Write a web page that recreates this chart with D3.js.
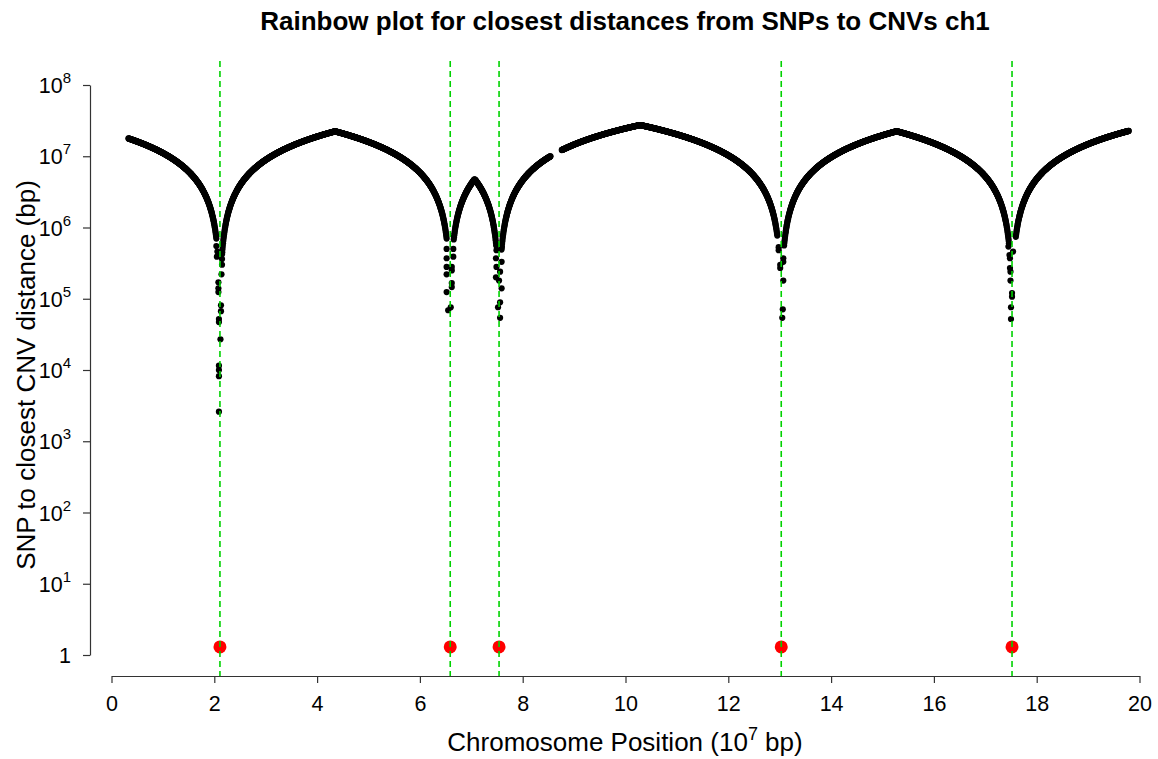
<!DOCTYPE html>
<html>
<head>
<meta charset="utf-8">
<script src="https://cdn.jsdelivr.net/npm/d3@7"></script>
<style>
  html, body { margin: 0; padding: 0; background: #fff; }
  svg { display: block; font-family: "Liberation Sans", Arial, Helvetica, sans-serif; }
</style>
</head>
<body>
<svg id="chart" width="1158" height="759"></svg>
<script>
// CNV locations on chromosome 1 (units of 10^7 bp)
const cnvPositions = [2.11, 6.59, 7.54, 13.03, 17.52];

// Runs of densely genotyped SNPs (start, end in 10^7 bp) and their spacing
const snpRuns = [
  [0.33, 2.04], [2.155, 6.52], [6.658, 7.484], [7.589, 8.54],
  [8.76, 12.953], [13.086, 17.46], [17.594, 19.79]
];
const snpSpacing = 0.005;

// Sparse SNPs lying right next to a CNV: [position (10^7 bp), distance (bp)]
const nearCnvSnps = [
  // CNV at 2.11
  [2.04, 5.5e5], [2.06, 4.6e5], [2.05, 3.9e5], [2.15, 4.2e5], [2.15, 3.6e5],
  [2.15, 3.0e5], [2.14, 2.2e5], [2.08, 1.7e5], [2.08, 1.4e5], [2.08, 1.24e5],
  [2.13, 8.1e4], [2.13, 6.7e4], [2.09, 5.2e4], [2.09, 4.7e4], [2.12, 2.7e4],
  [2.09, 1.15e4], [2.09, 1.0e4], [2.09, 8.2e3], [2.09, 2.6e3],
  // CNV at 6.59
  [6.52, 5.0e5], [6.65, 5.0e5], [6.52, 3.7e5], [6.65, 3.9e5], [6.52, 2.8e5],
  [6.62, 2.8e5], [6.62, 2.5e5], [6.52, 2.2e5], [6.62, 1.66e5], [6.62, 1.46e5],
  [6.52, 1.24e5], [6.60, 7.6e4], [6.55, 6.9e4],
  // CNV at 7.54
  [7.49, 4.8e5], [7.59, 5.2e5], [7.48, 3.7e5], [7.59, 3.3e5], [7.49, 2.8e5],
  [7.56, 2.4e5], [7.48, 2.0e5], [7.54, 1.8e5], [7.59, 1.4e5], [7.56, 8.9e4],
  [7.52, 7.6e4], [7.56, 5.4e4],
  // CNV at 13.03
  [12.98, 5.3e5], [12.98, 4.8e5], [13.07, 3.7e5], [13.07, 3.3e5], [13.01, 3.0e5],
  [13.01, 2.7e5], [13.07, 1.8e5], [13.06, 7.1e4], [13.05, 5.4e4],
  // CNV at 17.52
  [17.45, 5.4e5], [17.54, 4.6e5], [17.47, 4.1e5], [17.48, 3.7e5], [17.48, 2.7e5],
  [17.49, 2.4e5], [17.49, 1.8e5], [17.52, 1.2e5], [17.52, 1.07e5], [17.50, 7.6e4],
  [17.50, 5.2e4]
];

// Level at which CNV markers sit on the distance axis
const cnvMarkerLevel = 1.3;

// Axis ticks
const xTicks = [0, 2, 4, 6, 8, 10, 12, 14, 16, 18, 20];
const yTicks = [1, 1e1, 1e2, 1e3, 1e4, 1e5, 1e6, 1e7, 1e8];

const titleText = "Rainbow plot for closest distances from SNPs to CNVs ch1";
const xLabel = "Chromosome Position (10";
const xLabelExp = "7";
const xLabelTail = " bp)";
const yLabel = "SNP to closest CNV distance (bp)";

const svg = d3.select("#chart");

const x = d3.scaleLinear().domain([0, 20]).range([111.5, 1139.5]);
const y = d3.scaleLog().domain([1, 1e8]).range([655, 85]);

const plotTop = 61, plotBottom = 677;

// Distance (bp) from a position to its closest CNV
function closestDistance(pos) {
  return d3.min(cnvPositions, c => Math.abs(pos - c)) * 1e7;
}

// Dense SNPs built from the runs
const bandSnps = [];
snpRuns.forEach(([a, b]) => {
  const n = Math.round((b - a) / snpSpacing);
  for (let i = 0; i <= n; i++) {
    const p = a + (b - a) * i / n;
    bandSnps.push([p, closestDistance(p)]);
  }
});

const allSnps = bandSnps.concat(nearCnvSnps);

// SNP points
svg.append("g")
  .selectAll("circle")
  .data(allSnps)
  .join("circle")
  .attr("cx", d => x(d[0]))
  .attr("cy", d => y(d[1]))
  .attr("r", 3.1)
  .attr("fill", "#000");

// CNV markers
svg.append("g")
  .selectAll("circle")
  .data(cnvPositions)
  .join("circle")
  .attr("cx", d => x(d))
  .attr("cy", y(cnvMarkerLevel))
  .attr("r", 6.5)
  .attr("fill", "#ff0000");

// CNV guide lines
svg.append("g")
  .selectAll("line")
  .data(cnvPositions)
  .join("line")
  .attr("x1", d => x(d)).attr("x2", d => x(d))
  .attr("y1", plotTop).attr("y2", plotBottom)
  .attr("stroke", "#00d200")
  .attr("stroke-width", 1.6)
  .attr("stroke-dasharray", "6,4");

// X axis
const xAxis = svg.append("g")
  .attr("transform", "translate(0,676)")
  .call(d3.axisBottom(x).tickValues(xTicks).tickSize(7).tickSizeOuter(0).tickPadding(13));
xAxis.select(".domain").attr("stroke", "#333").attr("stroke-width", 1.2);
xAxis.selectAll(".tick line").attr("stroke", "#333").attr("stroke-width", 1.2);
xAxis.selectAll(".tick text")
  .attr("font-size", 21.5)
  .attr("fill", "#000")
  .attr("font-family", "Liberation Sans, Arial, sans-serif");

// Y axis with power-of-ten labels
const yAxis = svg.append("g")
  .attr("transform", "translate(90,0)")
  .call(d3.axisLeft(y).tickValues(yTicks).tickSize(7).tickSizeOuter(0).tickFormat(""));
yAxis.select(".domain").attr("stroke", "#333").attr("stroke-width", 1.2);
yAxis.selectAll(".tick line").attr("stroke", "#333").attr("stroke-width", 1.2);

const yLab = svg.append("g")
  .selectAll("text")
  .data(yTicks)
  .join("text")
  .attr("x", 71)
  .attr("y", d => y(d) + 8)
  .attr("text-anchor", "end")
  .attr("font-size", 21.5)
  .attr("fill", "#000");
yLab.each(function (d) {
  const t = d3.select(this);
  const e = Math.round(Math.log10(d));
  if (e === 0) {
    t.text("1");
  } else {
    t.append("tspan").text("10");
    t.append("tspan").attr("dy", -10).attr("font-size", 15).text(String(e));
  }
});

// Title
svg.append("text")
  .attr("x", 625)
  .attr("y", 30)
  .attr("text-anchor", "middle")
  .attr("font-size", 26)
  .attr("font-weight", "bold")
  .text(titleText);

// X axis label
const xl = svg.append("text")
  .attr("x", 625)
  .attr("y", 751)
  .attr("text-anchor", "middle")
  .attr("font-size", 26);
xl.append("tspan").text(xLabel);
xl.append("tspan").attr("dy", -11).attr("font-size", 18).text(xLabelExp);
xl.append("tspan").attr("dy", 11).text(xLabelTail);

// Y axis label
svg.append("text")
  .attr("transform", "translate(35,375) rotate(-90)")
  .attr("text-anchor", "middle")
  .attr("font-size", 26)
  .text(yLabel);
</script>
</body>
</html>
